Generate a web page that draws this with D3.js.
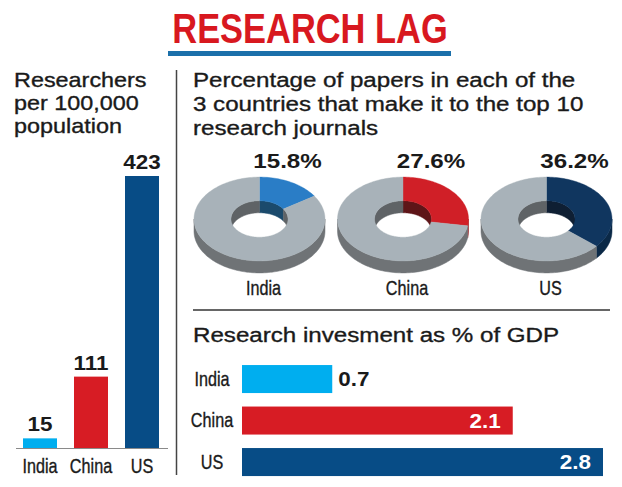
<!DOCTYPE html>
<html><head><meta charset="utf-8">
<script src="https://cdn.jsdelivr.net/npm/d3@7"></script>
<style>
html,body{margin:0;padding:0;background:#fff;}
svg{display:block;}
text{font-family:"Liberation Sans",Arial,Helvetica,sans-serif;}
</style></head>
<body>
<svg id="c" width="622" height="487"></svg>
<script>
// ---- data ----
const countries = ["India", "China", "US"];
const researchers = [15, 111, 423];
const topJournalPct = [15.8, 27.6, 36.2];
const gdpPct = [0.7, 2.1, 2.8];
const titleText = "RESEARCH LAG";
const leftTitle = ["Researchers", "per 100,000", "population"];
const donutTitle = ["Percentage of papers in each of the", "3 countries that make it to the top 10", "research journals"];
const barTitle = "Research invesment as % of GDP";

const barColors = ["#00aeef", "#d71c24", "#074c86"];
const donutTop = ["#2a7dc6", "#d01f27", "#10365f"];
const donutSide = ["#1d5a91", "#9a1a1f", "#0b2947"];
const donutInner = ["#1b4a6c", "#5e1518", "#0f1f33"];
const grayTop = "#a8b2b9", graySide = "#6f7376", grayInner = "#5f6366";

const svg = d3.select("#c");

function txt(x, y, s, o) {
  o = o || {};
  const fill = o.fill || "#1a1a1a";
  const t = svg.append("text")
    .attr("transform", `translate(${x},${y}) scale(${o.sx || 1.15},1)`)
    .attr("text-anchor", o.anchor || "start")
    .attr("font-size", o.size || 20)
    .attr("font-weight", o.bold ? "bold" : "normal")
    .attr("fill", fill)
    .text(s);
  if (!o.bold) t.attr("stroke", fill).attr("stroke-width", 0.35);
  return t;
}

// ---- title ----
txt(310, 43, titleText, {anchor: "middle", size: 42, bold: true, sx: 0.82, fill: "#d8181f"});
svg.append("rect").attr("x", 168).attr("y", 51).attr("width", 283).attr("height", 5).attr("fill", "#1b70aa");

// ---- separators ----
svg.append("line").attr("x1", 176.5).attr("x2", 176.5).attr("y1", 70).attr("y2", 475)
  .attr("stroke", "#444").attr("stroke-width", 1.5);
svg.append("line").attr("x1", 193).attr("x2", 610).attr("y1", 310).attr("y2", 310)
  .attr("stroke", "#333").attr("stroke-width", 1.5);

// ---- left: researchers per 100,000 ----
leftTitle.forEach((s, i) => txt(14, 87 + i * 23, s, {size: 20, sx: 1.17}));

const xb = d3.scaleBand().domain(countries).range([14.5, 167.5]).paddingInner(1 / 3).paddingOuter(1 / 6);
const yb = d3.scaleLinear().domain([0, 423]).range([448, 176]);

svg.selectAll("rect.vbar").data(researchers).enter().append("rect")
  .attr("class", "vbar")
  .attr("x", (d, i) => xb(countries[i]))
  .attr("width", xb.bandwidth())
  .attr("y", d => yb(d))
  .attr("height", d => yb(0) - yb(d))
  .attr("fill", (d, i) => barColors[i]);

researchers.forEach((d, i) => {
  txt(xb(countries[i]) + xb.bandwidth() / 2, yb(d) - 7, String(d), {anchor: "middle", size: 19.5, bold: true});
});

const axB = svg.append("g").attr("transform", "translate(0,448.5)")
  .call(d3.axisBottom(xb).tickSize(0).tickPadding(0).tickFormat(() => ""));
axB.select(".domain").attr("d", "M16,0H168").attr("stroke", "#8a8a8a").attr("stroke-width", 1.2);
countries.forEach(c => txt(xb(c) + xb.bandwidth() / 2, 473, c, {anchor: "middle", size: 19.5, sx: 0.83}));

// ---- donuts ----
donutTitle.forEach((s, i) => txt(193, 87 + i * 24, s, {size: 21, sx: 1.15}));

const cxs = d3.scalePoint().domain(countries).range([259.5, 546.5]);
const cy = 219, rx = 65.5, k = 0.64, rIn = 28.5, depth = 12;
const pie = d3.pie().sort(null).value(d => d);
const line = d3.line();

function P(r, a, dz, cx) { return [cx + r * Math.sin(a), cy - r * Math.cos(a) * k + dz]; }
function arcPts(r, a0, a1, dz, cx) {
  const n = Math.max(2, Math.ceil(Math.abs(a1 - a0) / 0.03));
  return d3.range(n + 1).map(j => P(r, a0 + (a1 - a0) * j / n, dz, cx));
}
function clip(a0, a1, lo, hi) { const s = Math.max(a0, lo), e = Math.min(a1, hi); return s < e ? [s, e] : null; }

countries.forEach((c, i) => {
  const cx = cxs(c);
  const g = svg.append("g");
  const slices = pie([topJournalPct[i], 100 - topJournalPct[i]]);
  const tops = [donutTop[i], grayTop], sides = [donutSide[i], graySide], inners = [donutInner[i], grayInner];
  // outer side walls (front half)
  slices.forEach((s, j) => {
    const r = clip(s.startAngle, s.endAngle, Math.PI / 2, 3 * Math.PI / 2);
    if (!r) return;
    const pts = arcPts(rx, r[0], r[1], 0, cx).concat(arcPts(rx, r[1], r[0], depth, cx));
    g.append("path").attr("d", line(pts) + "Z").attr("fill", sides[j]).attr("stroke", sides[j]).attr("stroke-width", 0.5);
  });
  // inner walls (far half)
  slices.forEach((s, j) => {
    [[0, Math.PI / 2], [3 * Math.PI / 2, 2 * Math.PI]].forEach(([lo, hi]) => {
      const r = clip(s.startAngle, s.endAngle, lo, hi);
      if (!r) return;
      const pts = arcPts(rIn, r[0], r[1], 0, cx).concat(arcPts(rIn, r[1], r[0], depth, cx));
      g.append("path").attr("d", line(pts) + "Z").attr("fill", inners[j]).attr("stroke", inners[j]).attr("stroke-width", 0.5);
    });
  });
  // top faces
  slices.forEach((s, j) => {
    const pts = arcPts(rx, s.startAngle, s.endAngle, 0, cx).concat(arcPts(rIn, s.endAngle, s.startAngle, 0, cx));
    g.append("path").attr("d", line(pts) + "Z").attr("fill", tops[j]).attr("stroke", tops[j]).attr("stroke-width", 0.4);
  });
  txt(cx + 28, 168, topJournalPct[i].toFixed(1) + "%", {anchor: "middle", size: 21, bold: true});
  txt(cx + 4, 295, c, {anchor: "middle", size: 19.5, sx: 0.83});
});

// ---- horizontal bars: GDP ----
txt(193, 342, barTitle, {size: 21, sx: 1.15});
const xh = d3.scaleLinear().domain([0, 2.8]).range([242, 603]);
const yh = d3.scaleBand().domain(countries).range([358.3, 482.8]).paddingInner(0.325).paddingOuter(0.1625);

svg.selectAll("rect.hbar").data(gdpPct).enter().append("rect")
  .attr("class", "hbar")
  .attr("x", xh(0))
  .attr("y", (d, i) => yh(countries[i]))
  .attr("width", d => xh(d) - xh(0))
  .attr("height", yh.bandwidth())
  .attr("fill", (d, i) => barColors[i]);

const axL = svg.append("g").attr("transform", "translate(212,0)")
  .call(d3.axisLeft(yh).tickSize(0).tickFormat(() => ""));
axL.select(".domain").remove();
countries.forEach(c => txt(212, yh(c) + yh.bandwidth() / 2 + 6.5, c, {anchor: "middle", size: 19.5, sx: 0.83}));

gdpPct.forEach((d, i) => {
  const yc = yh(countries[i]) + yh.bandwidth() / 2 + 7;
  if (xh(d) - xh(0) > 120) {
    txt(xh(d) - 12, yc, d.toFixed(1), {anchor: "end", size: 19.5, bold: true, fill: "#fff"});
  } else {
    txt(xh(d) + 6, yc, d.toFixed(1), {anchor: "start", size: 19.5, bold: true});
  }
});
</script>
</body></html>
